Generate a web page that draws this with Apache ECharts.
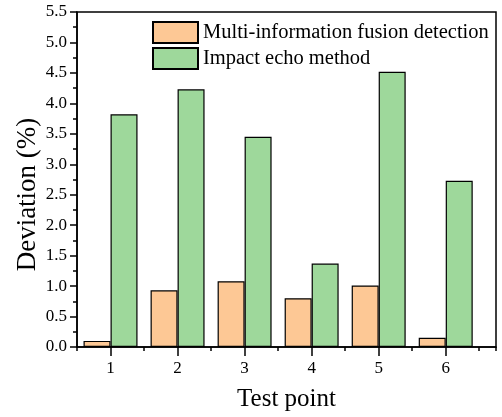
<!DOCTYPE html>
<html>
<head>
<meta charset="utf-8">
<script src="https://cdn.jsdelivr.net/npm/echarts@6/dist/echarts.min.js"></script>
<style>html,body{margin:0;padding:0;background:#fff;}#c{width:502px;height:417px;}</style>
</head>
<body>
<div id="c"></div>
<script>
// ---- data ----
const testPoints = [1, 2, 3, 4, 5, 6];
const fusionValues = [0.10, 0.93, 1.08, 0.80, 1.01, 0.15];
const impactValues = [3.82, 4.23, 3.45, 1.37, 4.52, 2.73];
const seriesNames = ['Multi-information fusion detection', 'Impact echo method'];
const xAxisTitle = 'Test point';
const yAxisTitle = 'Deviation (%)';

// ---- layout ----
const FONT = 'Liberation Serif';
const G = { left: 77, top: 12, right: 6, bottom: 68 };
const W = 502, H = 417;
const xMin = 0.5, xMax = 6.75;
const plotW = W - G.left - G.right;
const unit = plotW / (xMax - xMin);

const chart = echarts.init(document.getElementById('c'), null, { renderer: 'canvas' });
chart.setOption({
  animation: false,
  backgroundColor: '#fff',
  textStyle: { fontFamily: FONT, color: '#000' },
  grid: [
    { left: G.left, top: G.top, right: G.right, bottom: G.bottom, show: true, borderColor: '#000', borderWidth: 1.5, backgroundColor: 'transparent' },
    { left: G.left + (testPoints[0] - xMin) * unit, top: G.top, width: (testPoints[testPoints.length - 1] - testPoints[0]) * unit, bottom: G.bottom }
  ],
  legend: {
    orient: 'vertical', left: 152, top: 21, itemWidth: 45, itemHeight: 21, itemGap: 3, padding: 0,
    icon: 'rect',
    textStyle: { fontFamily: FONT, fontSize: 20.5, color: '#000' },
    data: seriesNames
  },
  xAxis: [
    {
      type: 'value', gridIndex: 0, min: xMin, max: xMax, interval: 0.5,
      axisLine: { show: true, onZero: false, lineStyle: { color: '#000', width: 1.5 } },
      axisTick: { show: true, inside: false, length: 4, lineStyle: { color: '#000', width: 1.5 } },
      axisLabel: { show: false },
      splitLine: { show: false },
      name: xAxisTitle, nameLocation: 'middle', nameGap: 40, nameMoveOverlap: false,
      nameTextStyle: { fontFamily: FONT, fontSize: 25, color: '#000' }
    },
    {
      type: 'value', gridIndex: 1, min: testPoints[0], max: testPoints[testPoints.length - 1], interval: 1,
      axisLine: { show: false, onZero: false },
      axisTick: { show: true, inside: false, length: 7, lineStyle: { color: '#000', width: 1.5 } },
      axisLabel: { show: true, margin: 11, fontFamily: FONT, fontSize: 17, color: '#000', formatter: v => String(v) },
      splitLine: { show: false }
    }
  ],
  yAxis: [
    {
      type: 'value', gridIndex: 0, min: 0, max: 5.5, interval: 0.5,
      axisLine: { show: true, lineStyle: { color: '#000', width: 1.5 } },
      axisTick: { show: true, inside: false, length: 7, lineStyle: { color: '#000', width: 1.5 } },
      minorTick: { show: true, splitNumber: 2, length: 4, lineStyle: { color: '#000', width: 1.5 } },
      axisLabel: { margin: 10, fontFamily: FONT, fontSize: 17, color: '#000', formatter: v => v.toFixed(1) },
      splitLine: { show: false },
      name: yAxisTitle, nameLocation: 'middle', nameGap: 36, nameRotate: 90, nameMoveOverlap: false,
      nameTextStyle: { fontFamily: FONT, fontSize: 27, color: '#000', padding: [0, 30, 0, 0] }
    },
    {
      type: 'value', gridIndex: 1, min: 0, max: 5.5, show: false
    }
  ],
  series: [
    {
      name: seriesNames[0], type: 'bar', xAxisIndex: 0, yAxisIndex: 0,
      barWidth: 27, barGap: '0%',
      itemStyle: { color: '#FDC895', borderColor: '#000', borderWidth: 1.2 },
      data: testPoints.map((p, i) => [p, fusionValues[i]])
    },
    {
      name: seriesNames[1], type: 'bar', xAxisIndex: 0, yAxisIndex: 0,
      barWidth: 27, barGap: '0%',
      itemStyle: { color: '#9ED89B', borderColor: '#000', borderWidth: 1.2 },
      data: testPoints.map((p, i) => [p, impactValues[i]])
    }
  ]
});
</script>
</body>
</html>
